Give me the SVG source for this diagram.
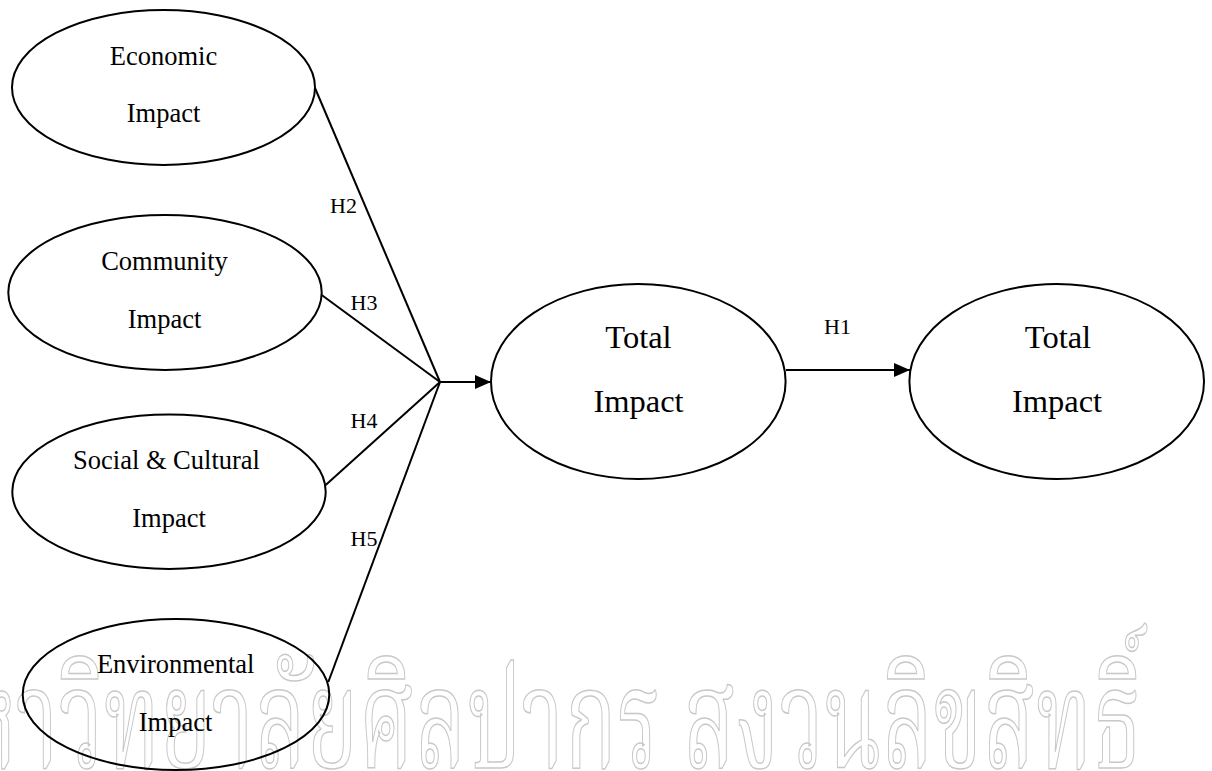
<svg xmlns="http://www.w3.org/2000/svg" width="1212" height="771" viewBox="0 0 1212 771">
<style>
.node ellipse{fill:none;stroke:#000;stroke-width:2}
.lbl{font-family:"Liberation Serif","Times New Roman",serif;font-size:26.5px;fill:#000;text-anchor:middle}
.big{font-family:"Liberation Serif","Times New Roman",serif;font-size:32.5px;fill:#000;text-anchor:middle}
.hyp{font-family:"Liberation Serif","Times New Roman",serif;font-size:22px;fill:#000}
.conn line{stroke:#000;stroke-width:2}
.wm{font-family:"Noto Serif Thai","Noto Sans Thai","Loma","Garuda","Tlwg Typo",sans-serif;font-size:140px;fill:none;stroke:#c8c8c8;stroke-width:1.5}
</style>
<defs>
<marker id="ah" markerWidth="16" markerHeight="14" refX="16" refY="7" orient="auto" markerUnits="userSpaceOnUse">
<path d="M0,0 L16,7 L0,14 Z" fill="#000"/>
</marker>
</defs>
<rect width="1212" height="771" fill="#fff"/>
<g id="watermark">
<text class="wm" x="1142" y="768" text-anchor="end" textLength="1237" lengthAdjust="spacingAndGlyphs">มหาวิทยาลัยศิลปากร สงวนลิขสิทธิ์</text>
</g>
<g id="connectors" class="conn">
<line x1="315" y1="88" x2="440" y2="382"/>
<line x1="321.7" y1="295" x2="440" y2="382"/>
<line x1="325.7" y1="485" x2="440" y2="382"/>
<line x1="328.3" y1="682" x2="440" y2="382"/>
<line x1="439" y1="382" x2="491" y2="382" marker-end="url(#ah)"/>
<line x1="786" y1="370" x2="910" y2="370" marker-end="url(#ah)"/>
<text class="hyp" x="330" y="213">H2</text>
<text class="hyp" x="350.5" y="310">H3</text>
<text class="hyp" x="350.5" y="428">H4</text>
<text class="hyp" x="350.5" y="546">H5</text>
<text class="hyp" x="824" y="334">H1</text>
</g>
<g id="economic" class="node">
<ellipse cx="163.5" cy="87.5" rx="151.5" ry="77.5"/>
<text class="lbl" x="163.5" y="65">Economic</text>
<text class="lbl" x="163.5" y="122">Impact</text>
</g>
<g id="community" class="node">
<ellipse cx="165" cy="292.5" rx="156.7" ry="77.5"/>
<text class="lbl" x="164.5" y="270">Community</text>
<text class="lbl" x="164.5" y="327.5">Impact</text>
</g>
<g id="social" class="node">
<ellipse cx="169" cy="491.7" rx="156.7" ry="77.3"/>
<text class="lbl" x="166.5" y="469.3">Social &amp; Cultural</text>
<text class="lbl" x="169" y="526.7">Impact</text>
</g>
<g id="environmental" class="node">
<ellipse cx="176" cy="694.5" rx="153.3" ry="75.5"/>
<text class="lbl" x="175.7" y="673.3">Environmental</text>
<text class="lbl" x="175.5" y="731">Impact</text>
</g>
<g id="total1" class="node">
<ellipse cx="638.3" cy="381.5" rx="147.3" ry="97.5"/>
<text class="big" x="638.5" y="348.3">Total</text>
<text class="big" x="638.5" y="412.3">Impact</text>
</g>
<g id="total2" class="node">
<ellipse cx="1056.7" cy="381.5" rx="147.3" ry="97.5"/>
<text class="big" x="1058" y="348.3">Total</text>
<text class="big" x="1057" y="412.3">Impact</text>
</g>
</svg>
